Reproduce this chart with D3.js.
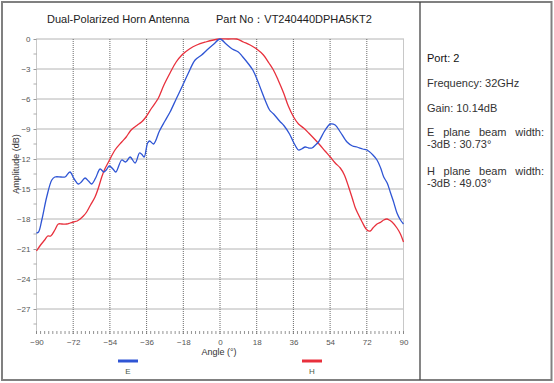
<!DOCTYPE html>
<html><head><meta charset="utf-8">
<script src="https://cdn.jsdelivr.net/npm/d3@7"></script>
<style>body{margin:0;background:#fff}svg{display:block;font-family:Arial,"Liberation Sans",sans-serif}</style>
</head><body>
<svg id="c" width="554" height="383"></svg>
<script>
const eAngles = [-90,-89,-87.4,-85,-82.5,-81,-78,-76,-73.6,-71.5,-69.5,-68,-66.2,-64.5,-62.9,-61,-58.8,-57,-55.8,-54.3,-52.5,-51.1,-48.2,-46.5,-45.7,-44.1,-41.6,-39.5,-38.5,-37.2,-35.5,-34.5,-32.6,-29.7,-27,-24.5,-21.5,-18.7,-15.5,-12.2,-9,-6.4,-3,0,3,6,9,11.2,14,16.1,18.5,20.2,22.5,24.3,26.3,29.2,31.5,34.1,36,38.5,40,41.8,43.5,45.1,46.8,48.3,51,53,54.1,56.5,59,62.3,65,67.2,70,72.1,75,77,78.8,80.3,82,83.5,85,86.8,88.5,90];
const eValues = [-19.4,-19.3,-18.1,-15.8,-14.1,-13.8,-13.8,-13.8,-13.3,-14.0,-14.5,-14.3,-13.9,-14.2,-14.5,-13.9,-13.0,-13.3,-13.1,-12.7,-13.0,-13.3,-12.1,-12.3,-12.2,-11.8,-12.4,-11.4,-11.5,-11.8,-10.4,-10.2,-10.5,-9.2,-8.2,-7.3,-6.0,-4.8,-3.4,-2.1,-1.6,-1.1,-0.5,0,-0.5,-1.0,-1.3,-1.8,-2.5,-3.1,-4.2,-5.1,-6.3,-7.1,-7.5,-8.2,-8.7,-9.5,-10.3,-11.1,-11.0,-10.8,-10.9,-10.9,-10.6,-10.3,-9.3,-8.7,-8.5,-8.6,-9.3,-10.3,-10.7,-10.8,-11.0,-11.1,-11.6,-12.1,-12.9,-13.8,-14.4,-15.3,-16.2,-17.4,-18.1,-18.5];
const hAngles = [-90,-88,-86,-84.5,-83,-81,-79.3,-77.5,-75.2,-73.5,-71.9,-70,-68.6,-67,-65.4,-63.5,-61.3,-59.5,-58,-56.5,-54.7,-51.5,-48.2,-46,-44,-42.5,-40.5,-38.5,-36.7,-33.5,-30.2,-27.5,-24.5,-21.5,-18.7,-15,-11.4,-7,-3.2,0,4,8.2,11.5,14.8,18,21.3,24,26.2,28.5,31.2,33.5,36.1,38.5,41,43.5,46.8,49,51.5,54.1,56.5,59,61,63.1,65,66.4,68,69.7,72.1,73.7,75,77,79,80.3,81.9,83,84.4,86.8,88.5,90];
const hValues = [-21.2,-20.6,-20.1,-19.7,-19.7,-19.1,-18.5,-18.5,-18.5,-18.4,-18.3,-18.2,-18.0,-17.7,-17.3,-16.6,-15.8,-14.8,-13.8,-13.0,-12.3,-11.1,-10.3,-9.8,-9.2,-8.9,-8.6,-8.3,-7.9,-6.9,-5.9,-4.6,-3.4,-2.3,-1.6,-1.0,-0.6,-0.3,-0.1,0,0,0,-0.3,-0.6,-1.0,-1.6,-2.4,-3.1,-4.1,-5.4,-6.7,-7.8,-8.5,-8.9,-9.4,-10.1,-10.6,-11.2,-11.8,-12.4,-12.9,-13.6,-14.8,-16.0,-16.9,-17.6,-18.3,-19.1,-19.2,-18.9,-18.5,-18.3,-18.1,-18.0,-18.1,-18.3,-18.9,-19.5,-20.3];
const xTicks = [-90,-72,-54,-36,-18,0,18,36,54,72,90];
const yTicks = [0,-3,-6,-9,-12,-15,-18,-21,-24,-27];
const seriesNames = ["E","H"];
const seriesColors = ["#2f55d4","#e8303c"];
const title1 = "Dual-Polarized Horn Antenna";
const title2 = "Part No\uFF1AVT240440DPHA5KT2";
const infoLines = ["Port: 2","Frequency: 32GHz","Gain: 10.14dB","E plane beam width:","-3dB : 30.73\u00B0","H plane beam width:","-3dB : 49.03\u00B0"];

const svg = d3.select("#c");
const x = d3.scaleLinear().domain([-90,90]).range([36.5,403.5]);
const y = d3.scaleLinear().domain([0,-29.5]).range([39,334]);

// frame
svg.append("rect").attr("x",2).attr("y",2).attr("width",549.5).attr("height",378).attr("fill","none").attr("stroke","#808080").attr("stroke-width",2);
svg.append("line").attr("x1",420).attr("x2",420).attr("y1",2).attr("y2",380).attr("stroke","#444").attr("stroke-width",1.3);

// titles
svg.append("text").attr("x",47).attr("y",23).attr("font-size",11).attr("fill","#222").text(title1);
svg.append("text").attr("x",216).attr("y",23).attr("font-size",11).attr("fill","#222").text(title2);

// grid
const g = svg.append("g");
g.selectAll(".hg").data(yTicks).join("line").attr("x1",x(-90)).attr("x2",x(90)).attr("y1",d=>y(d)).attr("y2",d=>y(d))
 .attr("stroke","#6a6a6a").attr("stroke-width",1).attr("stroke-dasharray","1,1");
g.selectAll(".vg").data(xTicks.slice(1,-1)).join("line").attr("x1",d=>x(d)).attr("x2",d=>x(d)).attr("y1",y(0)).attr("y2",y(-29.5))
 .attr("stroke","#6a6a6a").attr("stroke-width",1).attr("stroke-dasharray","1,1");
[-90,90].forEach(v=>g.append("line").attr("x1",x(v)).attr("x2",x(v)).attr("y1",y(0)).attr("y2",y(-29.5)).attr("stroke","#c8c8c8"));

// axes
const xAxis = d3.axisBottom(x).tickValues(xTicks).tickSize(0).tickPadding(5);
const xa = svg.append("g").attr("transform",`translate(0,${y(-29.5)})`).call(xAxis);
xa.select(".domain").remove();
xa.selectAll("text").attr("font-size",8).attr("fill","#555").attr("font-family","Arial,'Liberation Sans',sans-serif");
const minorX = d3.range(-90,91,2);
svg.append("g").selectAll("line").data(minorX).join("line").attr("x1",d=>x(d)).attr("x2",d=>x(d)).attr("y1",y(-29.5)).attr("y2",y(-29.5)-3)
 .attr("stroke","#777").attr("stroke-width",0.8);

const yAxis = d3.axisLeft(y).tickValues(yTicks).tickSize(3).tickPadding(3).tickFormat(d=>d3.format("d")(d));
const ya = svg.append("g").attr("transform",`translate(${x(-90)},0)`).call(yAxis);
ya.select(".domain").remove();
ya.selectAll("line").attr("stroke","#999");
ya.selectAll("text").attr("font-size",8).attr("fill","#555").attr("font-family","Arial,'Liberation Sans',sans-serif");
const minorY = d3.range(-1.5,-29.5,-3);
svg.append("g").selectAll("line").data(minorY).join("line").attr("x1",x(-90)-3).attr("x2",x(-90)).attr("y1",d=>y(d)).attr("y2",d=>y(d))
 .attr("stroke","#999").attr("stroke-width",0.8);

svg.append("text").attr("transform",`translate(19,${y(-12.5)}) rotate(-90)`).attr("text-anchor","middle").attr("font-size",9).attr("fill","#333").text("Amplitude (dB)");
svg.append("text").attr("x",219).attr("y",355).attr("text-anchor","middle").attr("font-size",9).attr("fill","#333").text("Angle (\u00B0)");

// lines
const line = d3.line().x(d=>x(d[0])).y(d=>y(d[1])).curve(d3.curveCatmullRom);
const eData = eAngles.map((a,i)=>[a,eValues[i]]);
const hData = hAngles.map((a,i)=>[a,hValues[i]]);
svg.append("path").datum(hData).attr("d",line).attr("fill","none").attr("stroke",seriesColors[1]).attr("stroke-width",1.3);
svg.append("path").datum(eData).attr("d",line).attr("fill","none").attr("stroke",seriesColors[0]).attr("stroke-width",1.3);

// legend
const legX = [128,312];
seriesNames.forEach((n,i)=>{
  svg.append("line").attr("x1",legX[i]-10).attr("x2",legX[i]+10).attr("y1",361).attr("y2",361).attr("stroke",seriesColors[i]).attr("stroke-width",3);
  svg.append("text").attr("x",legX[i]).attr("y",374).attr("text-anchor","middle").attr("font-size",8).attr("fill","#4a5a4a").text(n);
});

// info panel
const infoY = [62,87,112,136,148,175,187];
const justify = [false,false,false,true,false,true,false];
infoLines.forEach((t,i)=>{
  const tx = svg.append("text").attr("x",427).attr("y",infoY[i]).attr("font-size",11).attr("fill", i===0?"#111":"#333").text(t);
  if(justify[i]){
    const w = tx.node().getComputedTextLength();
    const spaces = (t.match(/ /g)||[]).length;
    tx.attr("word-spacing", ((117 - w)/spaces).toFixed(2));
  }
});
</script>
</body></html>
